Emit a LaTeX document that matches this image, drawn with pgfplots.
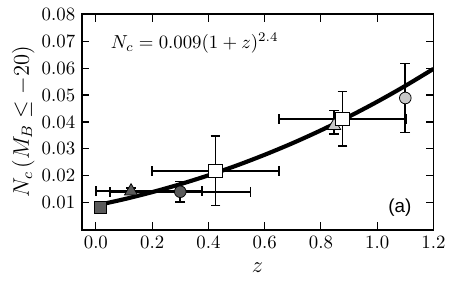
\documentclass[border={3pt 8pt 6pt 1pt}]{standalone}
\usepackage{pgfplots}
\pgfplotsset{compat=1.18}
\usepackage{fontspec}
\newfontfamily\helv{Liberation Sans}
\definecolor{dgray}{RGB}{90,90,90}
\definecolor{lgray}{RGB}{200,200,200}
\begin{document}
\begin{tikzpicture}
\begin{axis}[
  scale only axis,
  width=187pt, height=114.6pt,
  xmin=-0.05, xmax=1.2, ymin=0, ymax=0.08,
  xtick={0,0.2,0.4,0.6,0.8,1.0,1.2},
  ytick={0.01,0.02,0.03,0.04,0.05,0.06,0.07,0.08},
  scaled y ticks=false, scaled x ticks=false,
  xticklabel style={/pgf/number format/.cd,fixed,fixed zerofill,precision=1},
  yticklabel style={/pgf/number format/.cd,fixed,fixed zerofill,precision=2},
  tick pos=both, tick align=inside, major tick length=4pt,
  axis line style={line width=1pt},
  tick style={line width=0.6pt, black},
  xlabel={\large $z$},
  ylabel={\large $N_c\,(M_B \leq -20)$},
  xlabel style={yshift=-1pt},
  ylabel style={yshift=-3pt},
  error bars/error bar style={line width=0.9pt, black},
  error bars/error mark options={rotate=90, mark size=2.6pt, line width=0.9pt, black},
]
% triangles (behind curve)
\addplot[only marks, mark=triangle*, mark size=4pt, mark options={fill=dgray, draw=black, line width=0.4pt},
  error bars/.cd, x dir=both, y dir=both, x explicit, y explicit]
  coordinates {(0.125,0.0143) += (0.252,0.0012) -= (0.125,0.0012)};
\addplot[only marks, mark=triangle*, mark size=4pt, mark options={fill=lgray, draw=black, line width=0.4pt},
  error bars/.cd, x dir=both, y dir=both, x explicit, y explicit]
  coordinates {(0.847,0.0386) += (0,0.0056) -= (0,0.0031)};
% fit curve N_c = 0.009(1+z)^2.4 (tabulated)
\addplot[black, line width=2.2pt, smooth] coordinates {
(0.0,0.00900) (0.1,0.01131) (0.2,0.01394) (0.3,0.01689) (0.4,0.02018)
(0.5,0.02381) (0.6,0.02781) (0.7,0.03216) (0.8,0.03689) (0.9,0.04200)
(1.0,0.04750) (1.1,0.05340) (1.2,0.05971)};
% dark circle
\addplot[only marks, mark=*, mark size=3.1pt, mark options={fill=dgray, draw=black, line width=0.4pt},
  error bars/.cd, x dir=both, y dir=both, x explicit, y explicit]
  coordinates {(0.30,0.0141) += (0.25,0.0038) -= (0.25,0.0038)};
% dark square
\addplot[only marks, mark=square*, mark size=3.1pt, mark options={fill=dgray, draw=black, line width=0.4pt},
  error bars/.cd, x dir=both, y dir=both, x explicit, y explicit]
  coordinates {(0.015,0.0083) +- (0.018,0.0007)};
% white squares
\addplot[only marks, mark=square*, mark size=3.6pt, mark options={fill=white, draw=black, line width=0.4pt},
  error bars/.cd, x dir=both, y dir=both, x explicit, y explicit]
  coordinates {(0.425,0.0219) +- (0.225,0.0129) (0.877,0.0412) +- (0.225,0.0101)};
% light circle
\addplot[only marks, mark=*, mark size=3.1pt, mark options={fill=lgray, draw=black, line width=0.4pt},
  error bars/.cd, x dir=both, y dir=both, x explicit, y explicit]
  coordinates {(1.10,0.0489) +- (0,0.0128)};
\node[anchor=west] at (axis cs:0.03,0.0693) {$N_c = 0.009(1+z)^{2.4}$};
\node at (axis cs:1.081,0.0082) {\helv (a)};
\end{axis}
\end{tikzpicture}
\end{document}
